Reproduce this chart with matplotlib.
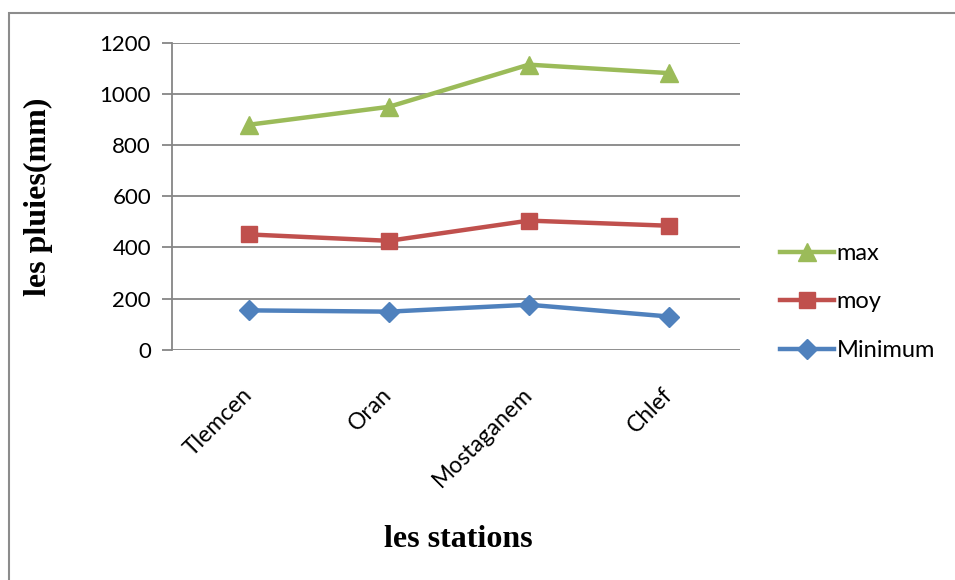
import matplotlib.pyplot as plt
from matplotlib.patches import Rectangle

stations = ["Tlemcen", "Oran", "Mostaganem", "Chlef"]
pluie_max = [880, 950, 1115, 1082]
pluie_moy = [451, 426, 505, 485]
pluie_min = [154, 149, 176, 130]

fig = plt.figure(figsize=(9.55, 5.8), dpi=100)
fig.patches.append(Rectangle((9 / 955, -0.05), 1.0, 1 - 13 / 580 + 0.05,
                             transform=fig.transFigure, fill=False,
                             edgecolor="#8c8c8c", linewidth=1.5))

ax = fig.add_axes([0.180, 0.397, 0.595, 0.529])
x = range(len(stations))

ax.plot(x, pluie_max, color="#9BBB59", lw=3.2, marker="^", ms=13, label="max")
ax.plot(x, pluie_moy, color="#C0504D", lw=3.2, marker="s", ms=12, label="moy")
ax.plot(x, pluie_min, color="#4F81BD", lw=3.2, marker="D", ms=10, label="Minimum")

ax.set_xlim(-0.55, 3.51)
ax.set_ylim(0, 1200)
ax.set_yticks(range(0, 1201, 200))
ax.yaxis.grid(True, color="#868686", lw=1.3)
ax.set_axisbelow(True)
for s in ["top", "right", "bottom"]:
    ax.spines[s].set_visible(False)
ax.spines["left"].set_color("#868686")
ax.spines["left"].set_linewidth(1.3)
ax.tick_params(axis="y", color="#868686", width=1.3, length=7, labelsize=16, pad=8)
ax.tick_params(axis="x", length=0, labelsize=16.5, pad=30)
for lab in ax.get_yticklabels():
    lab.set_family("Lato")

ax.set_xticks(list(x))
ax.set_xticklabels(stations, rotation=45, ha="right", va="center",
                   rotation_mode="anchor", family="Lato")

fig.text(0.040, 0.66, "les pluies(mm)", family="Liberation Serif",
         fontweight="bold", fontsize=23, rotation=90, ha="center", va="center")
fig.text(0.480, 0.069, "les stations", family="Liberation Serif",
         fontweight="bold", fontsize=23, ha="center", va="center")

fig.legend(*ax.get_legend_handles_labels(), loc="center left",
           bbox_to_anchor=(780 / 955, 1 - 302 / 580), frameon=False,
           prop={"family": "Lato", "size": 17}, labelspacing=1.17,
           handlelength=2.3, handletextpad=0.1, borderpad=0, borderaxespad=0)

fig.savefig("out.png", dpi=100)
